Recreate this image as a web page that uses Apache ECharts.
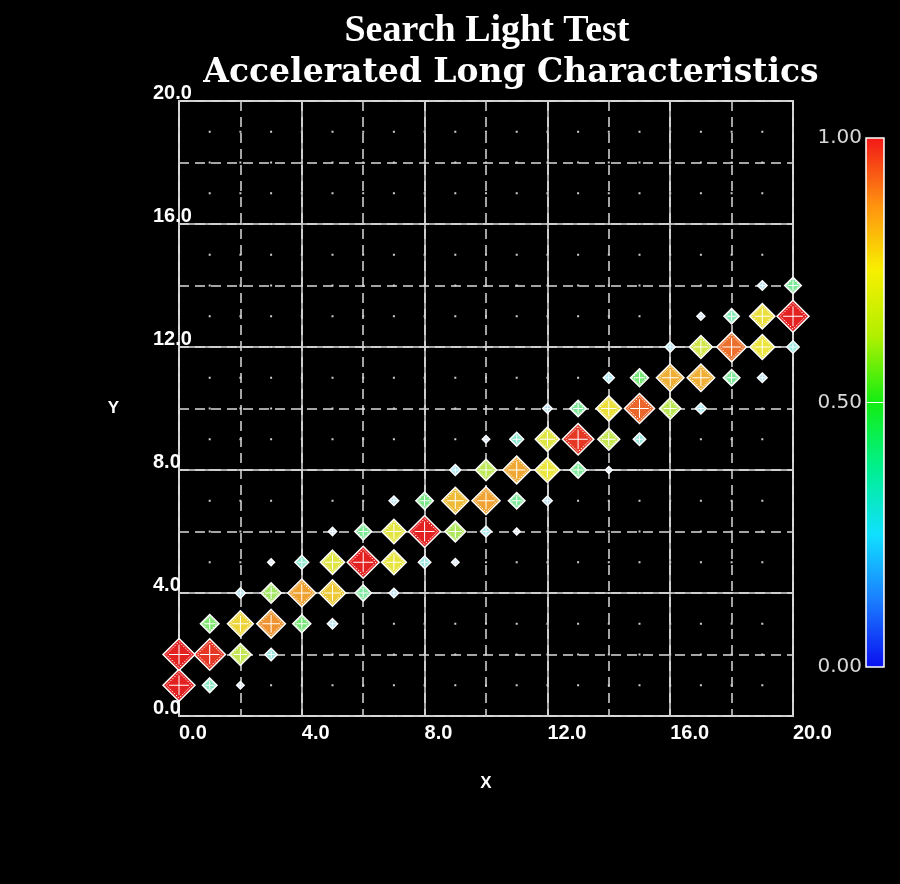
<!DOCTYPE html>
<html><head><meta charset="utf-8">
<script src="https://cdn.jsdelivr.net/npm/echarts@6/dist/echarts.min.js"></script>
<style>html,body{margin:0;padding:0;background:#000}#c{width:900px;height:884px}</style>
</head><body><div id="c"></div>
<script>
// ---- data ----
const titleMain = 'Search Light Test';
const titleSub = 'Accelerated Long Characteristics';
const axisMin = 0, axisMax = 20;
const colorbarTicks = [1.00, 0.50, 0.00];
const pointX = [0,0, 1,1,1, 2,2,2,2, 3,3,3,3, 4,4,4, 5,5,5,5, 6,6,6, 7,7,7,7, 8,8,8, 9,9,9,9, 10,10,10,10, 11,11,11,11, 12,12,12,12, 13,13,13, 14,14,14,14, 15,15,15, 16,16,16, 17,17,17,17, 18,18,18, 19,19,19,19, 20,20,20];
const pointY = [1,2, 1,2,3, 1,2,3,4, 2,3,4,5, 3,4,5, 3,4,5,6, 4,5,6, 4,5,6,7, 5,6,7, 5,6,7,8, 6,7,8,9, 6,7,8,9, 7,8,9,10, 8,9,10, 8,9,10,11, 9,10,11, 10,11,12, 10,11,12,13, 11,12,13, 11,12,13,14, 12,13,14];
const pointValue = [1.0,1.0, 0.38,0.98,0.52, 0.12,0.64,0.78,0.22, 0.30,0.88,0.58,0.10, 0.50,0.86,0.35, 0.22,0.80,0.72,0.15, 0.44,1.0,0.46, 0.20,0.74,0.73,0.20, 0.30,1.0,0.48, 0.12,0.60,0.82,0.25, 0.25,0.86,0.62,0.12, 0.10,0.45,0.85,0.35, 0.20,0.75,0.72,0.20, 0.45,0.98,0.45, 0.10,0.64,0.76,0.25, 0.30,0.93,0.50, 0.62,0.84,0.22, 0.25,0.84,0.68,0.14, 0.45,0.92,0.40, 0.20,0.75,0.76,0.20, 0.30,1.0,0.45];

// ---- build series data (grid cells with no signal have value 0) ----
const occupied = new Set(pointX.map((x, i) => x + ',' + pointY[i]));
const data = [];
for (let x = axisMin; x <= axisMax; x++) {
  for (let y = axisMin; y <= axisMax; y++) {
    if (!occupied.has(x + ',' + y)) data.push([x, y, 0]);
  }
}
pointX.map((x, i) => [x, pointY[i], pointValue[i]])
  .sort((a, b) => a[2] - b[2])
  .forEach(p => data.push(p));

function diamond(cx, cy, s) {
  return [[cx, cy - s], [cx + s, cy], [cx, cy + s], [cx - s, cy]];
}
function paler(color, v) {
  const c = echarts.color.parse(color) || [128, 128, 128, 1];
  const t = Math.min(0.75, 0.05 + 0.8 * (1 - v));
  const f = k => Math.round((c[k] * (1 - t) + 255 * t) * 0.94);
  return 'rgb(' + f(0) + ',' + f(1) + ',' + f(2) + ')';
}
function renderItem(params, api) {
  const v = api.value(2);
  const c = api.coord([api.value(0), api.value(1)]);
  if (!(v > 0)) {
    return {type: 'rect', shape: {x: c[0] - 1, y: c[1] - 1, width: 2, height: 2}, style: {fill: '#cfcfcf'}};
  }
  const s = (4 + 28 * v) / 2;
  const color = paler(api.visual('color'), v);
  const children = [
    {type: 'polygon', shape: {points: diamond(c[0], c[1], s)}, style: {fill: color, stroke: '#ffffff', lineWidth: 1.5}}
  ];
  if (s > 7) {
    children.push({type: 'polygon', shape: {points: diamond(c[0], c[1], s * 0.8)}, style: {fill: 'none', stroke: '#ffffff', lineWidth: 1, lineDash: [1.5, 1.5]}});
  }
  const s3 = s * 0.62;
  children.push({type: 'line', shape: {x1: c[0] - s3, y1: c[1], x2: c[0] + s3, y2: c[1]}, style: {stroke: '#ffffff', lineWidth: 1}});
  children.push({type: 'line', shape: {x1: c[0], y1: c[1] - s3, x2: c[0], y2: c[1] + s3}, style: {stroke: '#ffffff', lineWidth: 1}});
  return {type: 'group', children: children};
}

const chart = echarts.init(document.getElementById('c'), null, {renderer: 'canvas'});
const labelFont = {color: '#ffffff', fontFamily: 'Liberation Sans', fontWeight: 'bold', fontSize: 20};
const barTop = 138, barBottom = 667, barLeft = 866, barWidth = 18;

chart.setOption({
  backgroundColor: '#000000',
  animation: false,
  grid: {left: 179, right: 107, top: 101, bottom: 168, show: true, borderColor: '#dcdcdc', borderWidth: 1.5, backgroundColor: 'transparent', outerBoundsMode: 'none', containLabel: false},
  xAxis: [
    {type: 'value', min: axisMin, max: axisMax, interval: 4,
     axisLine: {show: false}, axisTick: {show: false},
     splitLine: {show: true, lineStyle: {color: '#dcdcdc', width: 1.5, type: 'solid'}},
     axisLabel: Object.assign({formatter: v => v.toFixed(1), align: 'left', verticalAlign: 'top', margin: 7}, labelFont),
     name: 'X', nameLocation: 'middle', nameGap: 59,
     nameTextStyle: {color: '#ffffff', fontFamily: 'Liberation Sans', fontWeight: 'bold', fontSize: 17}},
    {type: 'value', min: axisMin, max: axisMax, interval: 2, position: 'bottom',
     axisLine: {show: false}, axisTick: {show: false}, axisLabel: {show: false},
     splitLine: {show: true, lineStyle: {color: '#dcdcdc', width: 1.5, type: [10, 6]}}}
  ],
  yAxis: [
    {type: 'value', min: axisMin, max: axisMax, interval: 4,
     axisLine: {show: false}, axisTick: {show: false},
     splitLine: {show: true, lineStyle: {color: '#dcdcdc', width: 1.5, type: 'solid'}},
     axisLabel: Object.assign({formatter: v => v.toFixed(1), align: 'left', verticalAlign: 'bottom', margin: 26, padding: [0, 0, -2, 0]}, labelFont),
     name: 'Y', nameLocation: 'middle', nameGap: 60, nameRotate: 0,
     nameTextStyle: {color: '#ffffff', fontFamily: 'Liberation Sans', fontWeight: 'bold', fontSize: 17, align: 'right', verticalAlign: 'middle'}},
    {type: 'value', min: axisMin, max: axisMax, interval: 2, position: 'left',
     axisLine: {show: false}, axisTick: {show: false}, axisLabel: {show: false},
     splitLine: {show: true, lineStyle: {color: '#dcdcdc', width: 1.5, type: [10, 6]}}}
  ],
  visualMap: {
    type: 'continuous', min: 0, max: 1, dimension: 2, seriesIndex: 0,
    show: true, calculable: false, orient: 'vertical',
    left: barLeft, top: barTop, itemWidth: barWidth, itemHeight: barBottom - barTop, padding: 0,
    text: null, showLabel: false,
    inRange: {color: ['#0a10f0', '#1a7cff', '#10e0ff', '#00f090', '#12ee12', '#b0f000', '#f8f000', '#ff9010', '#f21818']}
  },
  graphic: [
    {type: 'text', style: {text: titleMain, x: 487, y: 31, textAlign: 'center', textVerticalAlign: 'middle', font: 'bold 38px "Liberation Serif"', fill: '#ffffff'}},
    {type: 'text', style: {text: titleSub, x: 511, y: 73, textAlign: 'center', textVerticalAlign: 'middle', font: 'bold 33px "DejaVu Serif"', fill: '#ffffff'}},
    {type: 'rect', shape: {x: barLeft, y: barTop, width: barWidth, height: barBottom - barTop}, style: {fill: 'none', stroke: '#ffffff', lineWidth: 1.5}, z: 100},
    {type: 'line', shape: {x1: barLeft, y1: (barTop + barBottom) / 2, x2: barLeft + barWidth, y2: (barTop + barBottom) / 2}, style: {stroke: '#ffffff', lineWidth: 1}, z: 100}
  ].concat(colorbarTicks.map(t => ({
    type: 'text', z: 100,
    style: {text: t.toFixed(2), x: 862, y: barBottom - t * (barBottom - barTop), textAlign: 'right', textVerticalAlign: 'middle', font: '20px "DejaVu Sans"', fill: '#d8d8d8'}
  }))),
  series: [{
    type: 'custom', coordinateSystem: 'cartesian2d', xAxisIndex: 0, yAxisIndex: 0,
    clip: false, renderItem: renderItem, data: data, z: 10
  }]
});
</script>
</body></html>
